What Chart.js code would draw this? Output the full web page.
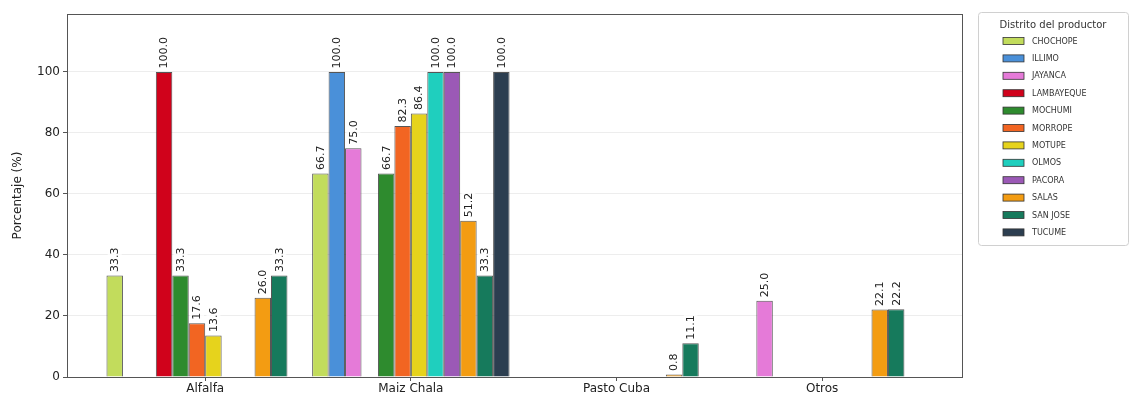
<!DOCTYPE html>
<html>
<head>
<meta charset="utf-8">
<script src="https://cdn.jsdelivr.net/npm/chart.js@4.4.0/dist/chart.umd.min.js"></script>
<style>
  html, body { margin: 0; padding: 0; background: #fff; }
</style>
</head>
<body>
<canvas id="myChart" width="1132" height="397"></canvas>
<script>
const categories = ['Alfalfa', 'Maiz Chala', 'Pasto Cuba', 'Otros'];
const districts = ['CHOCHOPE', 'ILLIMO', 'JAYANCA', 'LAMBAYEQUE', 'MOCHUMI', 'MORROPE',
                   'MOTUPE', 'OLMOS', 'PACORA', 'SALAS', 'SAN JOSE', 'TUCUME'];
const colors = ['#c2dc5c', '#4a90d9', '#e57ad8', '#d0021b', '#2e8b2e', '#f26522',
                '#e6d31c', '#1fcfbe', '#9b59b6', '#f39c12', '#167a5c', '#2c3e50'];

// porcentaje por cultivo (null = sin dato)
const chochope   = [33.3, 66.7, null, null];
const illimo     = [null, 100.0, null, null];
const jayanca    = [null, 75.0, null, 25.0];
const lambayeque = [100.0, null, null, null];
const mochumi    = [33.3, 66.7, null, null];
const morrope    = [17.6, 82.3, null, null];
const motupe     = [13.6, 86.4, null, null];
const olmos      = [null, 100.0, null, null];
const pacora     = [null, 100.0, null, null];
const salas      = [26.0, 51.2, 0.8, 22.1];
const sanJose    = [33.3, 33.3, 11.1, 22.2];
const tucume     = [null, 100.0, null, null];

const yTicks = [0, 20, 40, 60, 80, 100];

const series = [chochope, illimo, jayanca, lambayeque, mochumi, morrope,
                motupe, olmos, pacora, salas, sanJose, tucume];

const FONT = '"DejaVu Sans", sans-serif';

// etiquetas verticales encima de cada barra
const barLabels = {
  id: 'barLabels',
  afterDatasetsDraw(chart) {
    const ctx = chart.ctx;
    ctx.save();
    ctx.font = '11px ' + FONT;
    chart.data.datasets.forEach((ds, i) => {
      chart.getDatasetMeta(i).data.forEach((bar, j) => {
        const v = ds.data[j].y;
        if (v == null) return;
        const txt = v.toFixed(1);
        const w = ctx.measureText(txt).width;
        ctx.setTransform(1, 0, 0, 1, bar.x, bar.y - 3);
        ctx.rotate(-Math.PI / 2);
        ctx.fillStyle = 'rgba(255,255,255,0.75)';
        ctx.beginPath();
        ctx.roundRect(-1, -7, w + 3, 14, 3);
        ctx.fill();
        ctx.fillStyle = '#222';
        ctx.textAlign = 'left';
        ctx.textBaseline = 'middle';
        ctx.fillText(txt, 0.5, 0.5);
      });
    });
    ctx.restore();
  }
};

// marco del gráfico y leyenda a la derecha
const frameLegend = {
  id: 'frameLegend',
  afterDraw(chart) {
    const ctx = chart.ctx;
    const a = chart.chartArea;
    ctx.save();
    ctx.strokeStyle = '#555';
    ctx.lineWidth = 1;
    ctx.strokeRect(a.left + 0.5, a.top + 0.5, a.right - a.left, a.bottom - a.top);

    const lx = 978, ly = 12, lw = 150, lh = 233;
    ctx.fillStyle = 'rgba(255,255,255,0.9)';
    ctx.strokeStyle = '#d0d0d0';
    ctx.beginPath();
    ctx.roundRect(lx + 0.5, ly + 0.5, lw, lh, 3);
    ctx.fill();
    ctx.stroke();

    ctx.fillStyle = '#333';
    ctx.font = '10px ' + FONT;
    ctx.textAlign = 'center';
    ctx.textBaseline = 'middle';
    ctx.fillText('Distrito del productor', lx + lw / 2, ly + 13);

    ctx.font = '8px ' + FONT;
    ctx.textAlign = 'left';
    districts.forEach((d, i) => {
      const y = ly + 29 + i * 17.4;
      ctx.fillStyle = colors[i];
      ctx.fillRect(1003, y - 3.5, 21, 7);
      ctx.strokeStyle = '#333';
      ctx.lineWidth = 0.8;
      ctx.strokeRect(1003, y - 3.5, 21, 7);
      ctx.fillStyle = '#333';
      ctx.fillText(d, 1032, y + 0.5);
    });
    ctx.restore();
  }
};

new Chart(document.getElementById('myChart'), {
  type: 'bar',
  data: {
    datasets: districts.map((d, i) => ({
      label: d,
      data: categories.map((c, j) => ({ x: j, y: series[i][j] })),
      backgroundColor: colors[i],
      borderColor: 'rgba(30,30,30,0.75)',
      borderWidth: 1,
      categoryPercentage: 0.96,
      barPercentage: 1.0
    }))
  },
  options: {
    responsive: false,
    animation: false,
    devicePixelRatio: 1,
    layout: { padding: { top: 14, right: 170, left: 0, bottom: 0 } },
    plugins: {
      legend: { display: false },
      tooltip: { enabled: false }
    },
    scales: {
      x: {
        type: 'linear',
        offset: false,
        min: -0.672,
        max: 3.68,
        afterBuildTicks: s => { s.ticks = categories.map((c, i) => ({ value: i })); },
        afterFit: s => { s.height = 20; },
        ticks: {
          callback: v => categories[v],
          font: { family: FONT, size: 12 },
          color: '#222',
          padding: 1,
          maxRotation: 0
        },
        grid: { offset: false, drawOnChartArea: false, drawTicks: true, tickLength: 4, tickColor: '#555' },
        border: { display: true, color: '#555' }
      },
      y: {
        min: 0,
        max: 119,
        afterBuildTicks: s => { s.ticks = yTicks.map(v => ({ value: v })); },
        afterFit: s => { s.width = 67; },
        ticks: {
          font: { family: FONT, size: 12 },
          color: '#222',
          padding: 3
        },
        grid: { color: 'rgba(0,0,0,0.07)', tickLength: 4, tickColor: '#555' },
        border: { display: true, color: '#555' },
        title: {
          display: true,
          text: 'Porcentaje (%)',
          font: { family: FONT, size: 12 },
          color: '#222',
          padding: { top: 11, bottom: 4 }
        }
      }
    }
  },
  plugins: [barLabels, frameLegend]
});
</script>
</body>
</html>
